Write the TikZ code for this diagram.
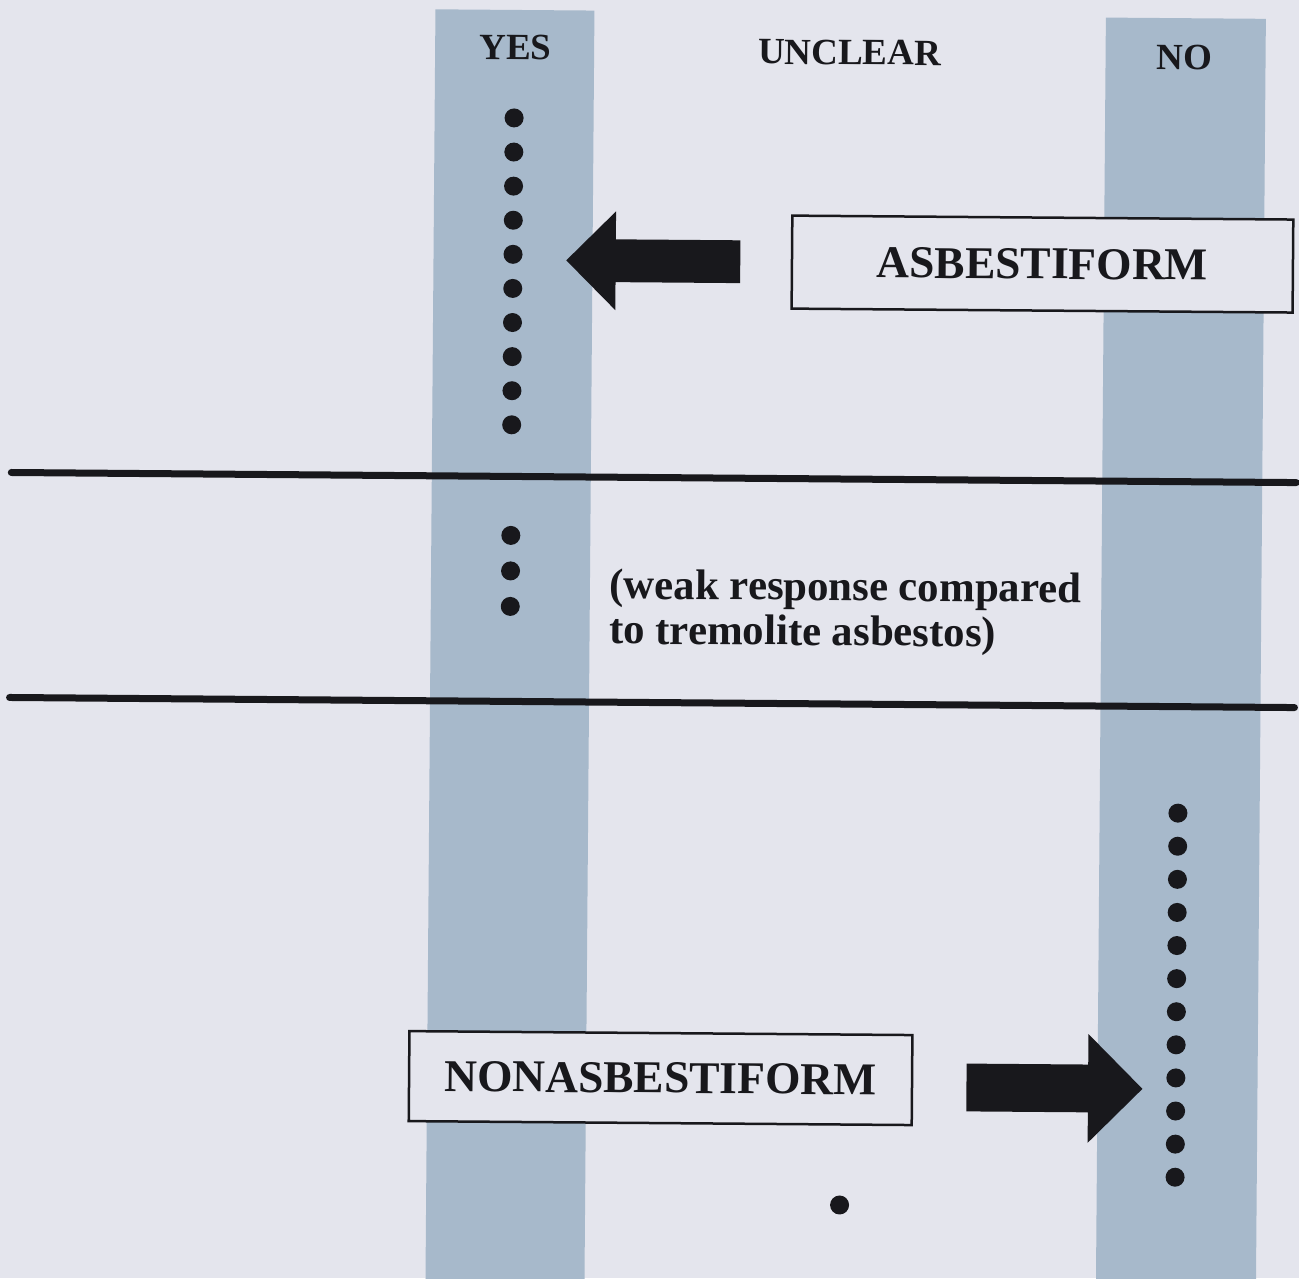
\documentclass[tikz,border=0pt]{standalone}
\usepackage{fontspec}
\setmainfont{Liberation Serif}
\usetikzlibrary{shapes,arrows,positioning}
\usetikzlibrary{arrows.meta}

\definecolor{paper}{RGB}{228,229,237}
\definecolor{band}{RGB}{167,185,203}
\definecolor{ink}{RGB}{24,24,28}

\begin{document}
\begin{tikzpicture}[
      x=0.5pt, y=-0.5pt,
      colhead/.style={
         anchor=base,
         inner sep=0pt,
         text=ink,
         font=\fontsize{18.5}{20}\selectfont\bfseries},
      mybox/.style={
         draw=ink,
         fill=paper,
         line width=1.25pt,
         inner sep=0pt,
         text=ink,
         font=\fontsize{22.75}{24}\selectfont\bfseries},
      mydot/.style={circle, fill=ink, inner sep=0pt, minimum size=9.5pt},
      bigarrow/.style={
         single arrow,
         fill=ink,
         inner xsep=0pt,
         single arrow tip angle=90,
         single arrow head indent=0pt},
      divider/.style={draw=ink, line width=3.5pt, line cap=round}
      ]
  \fill[paper] (0,0) rectangle (1299,1278);
  \useasboundingbox (0,0) rectangle (1299,1278);

  \begin{scope}
  \clip (0,0) rectangle (1299,1278);
  \begin{scope}[rotate around={-0.45:(650,640)}, transform shape]
    % the YES and NO columns
    \fill[band] (430.5,11) rectangle (589.5,1320);
    \fill[band] (1101,14) rectangle (1261,1320);

    % column heads
    \node[colhead] (yes) at (511,60.5) {YES};
    \node[colhead] (unclear) at (845,63) {UNCLEAR};
    \node[colhead] (no) at (1180,65.5) {NO};

    % band separators
    \draw[divider] (10,477.5) -- (1295,477.5);
    \draw[divider] (10,702.5) -- (1295,702.5);

    % upper band
    \foreach \i in {0,...,9}
       \node[mydot] (y\i) at (510,{119+34.1*\i}) {};
    \node[bigarrow, shape border rotate=180,
          minimum height=87pt, inner ysep=10.5pt,
          single arrow head extend=14pt] (larr) at (661,261) {};
    \node[mybox, minimum width=250.5pt, minimum height=46.5pt] (asb) at (1039.5,261) {ASBESTIFORM};

    % middle band
    \foreach \i in {0,1,2}
       \node[mydot] (m\i) at (510,{536.5+35.5*\i}) {};
    \node[anchor=base west, align=left, inner sep=0pt, text=ink,
          font=\fontsize{21.4}{22.5}\selectfont\bfseries] (note) at (609,644)
          {(weak response compared\\to tremolite asbestos)};

    % lower band
    \foreach \i in {0,...,11}
       \node[mydot] (n\i) at (1179.3,{809+33.1*\i}) {};
    \node[mydot] (u0) at (844,1203.5) {};
    \node[bigarrow,
          minimum height=88pt, inner ysep=11.75pt,
          single arrow head extend=15.25pt] (rarr) at (1046,1085) {};
    \node[mybox, minimum width=251.5pt, minimum height=45pt] (nonasb) at (664,1078) {NONASBESTIFORM};
  \end{scope}
  \end{scope}
\end{tikzpicture}
\end{document}
